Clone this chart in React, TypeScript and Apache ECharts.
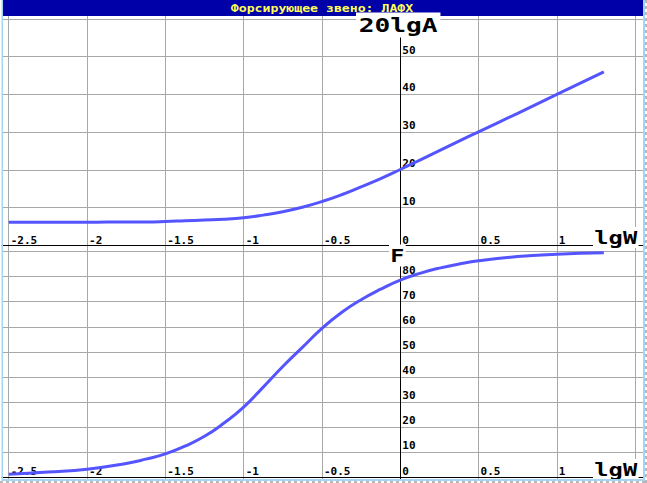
import React, { useEffect, useRef } from "react";
import * as echarts from "echarts";

const titleText = "Форсирующее звено: ЛАФХ";
const ampName = "20lgA";
const phaseName = "F";
const freqName = "lgW";

const xTickValues = [-2.5, -2, -1.5, -1, -0.5, 0, 0.5, 1, 1.5];
const xLabelValues = [-2.5, -2, -1.5, -1, -0.5, 0, 0.5, 1];
const ampTickValues = [10, 20, 30, 40, 50, 60];
const ampLabelValues = [10, 20, 30, 40, 50];
const phaseTickValues = [10, 20, 30, 40, 50, 60, 70, 80, 90];
const phaseLabelValues = [10, 20, 30, 40, 50, 60, 70, 80];

const lgW = [-2.5, -2.25, -2.0, -1.75, -1.625, -1.5, -1.375, -1.25, -1.125, -1.0, -0.875, -0.75, -0.625, -0.5, -0.375, -0.25, -0.125, 0, 0.125, 0.25, 0.375, 0.5, 0.75, 1.0, 1.3];
const ampValues = [6.1, 6.1, 6.1, 6.2, 6.2, 6.3, 6.5, 6.7, 6.9, 7.3, 8.0, 8.9, 10.1, 11.6, 13.4, 15.5, 17.7, 20.1, 22.6, 25.1, 27.6, 30.1, 35.0, 40.0, 46.0];
const phaseValues = [1.3, 2.2, 3.3, 5.6, 7.3, 9.4, 12.5, 16.4, 21.7, 28.0, 36.0, 44.2, 51.8, 59.4, 65.7, 70.8, 75.0, 78.6, 81.3, 83.4, 85.0, 86.3, 88.0, 88.9, 89.5];

const GRID_COLOR = "#a8a8a8";
const LINE_COLOR = "#5555ff";
const FRAME_COLOR = "#a6d4f2";
const MONO = "'DejaVu Sans Mono', monospace";

const GRID_LEFT = 2;
const GRID_WIDTH = 641;
const X_MIN = -2.543;
const X_MAX = 1.55;

export default function App() {
  const ref = useRef<HTMLDivElement>(null);
  useEffect(() => {
    if (!ref.current) return;
    const chart = echarts.init(ref.current, null, { renderer: "svg" });

    const yOffset = -((0 - X_MIN) / (X_MAX - X_MIN)) * GRID_WIDTH;

    const labelStyle = {
      inside: true,
      color: "#000",
      fontFamily: MONO,
      fontWeight: "bold" as const,
      fontSize: 11,
      margin: 2,
    };

    const xAxisBase = (gridIndex: number) => ({
      type: "value" as const,
      gridIndex,
      min: X_MIN,
      max: X_MAX,
      axisLine: { show: true, onZero: true, lineStyle: { color: "#000", width: 1 } },
      axisTick: { show: false, customValues: xTickValues },
      splitLine: { show: true, lineStyle: { color: GRID_COLOR, width: 1 } },
      axisLabel: {
        ...labelStyle,
        customValues: xLabelValues,
        align: "left",
        verticalAlign: "bottom",
        padding: [0, 0, 0, 2],
        formatter: (v: number) => String(v),
      },
    });

    const yAxisBase = (gridIndex: number, min: number, max: number, ticks: number[], labels: number[]) => ({
      type: "value" as const,
      gridIndex,
      min,
      max,
      position: "left" as const,
      offset: yOffset,
      axisLine: { show: true, onZero: false, lineStyle: { color: "#000", width: 1 } },
      axisTick: { show: false, customValues: ticks },
      splitLine: { show: true, lineStyle: { color: GRID_COLOR, width: 1 } },
      axisLabel: {
        ...labelStyle,
        customValues: labels,
        align: "left",
        verticalAlign: "bottom",
        padding: [0, 0, 1, 0],
      },
    });

    chart.setOption({
      animation: false,
      backgroundColor: "#fff",
      grid: [
        { left: GRID_LEFT, top: 16, width: GRID_WIDTH, height: 232, containLabel: false },
        { left: GRID_LEFT, top: 248, width: GRID_WIDTH, height: 231, containLabel: false },
      ],
      xAxis: [xAxisBase(0), xAxisBase(1)],
      yAxis: [
        yAxisBase(0, -0.72, 60.8, ampTickValues, ampLabelValues),
        yAxisBase(1, -0.6, 91.4, phaseTickValues, phaseLabelValues),
      ],
      series: [
        {
          type: "line",
          xAxisIndex: 0,
          yAxisIndex: 0,
          data: lgW.map((x, i) => [x, ampValues[i]]),
          smooth: 0.5,
          showSymbol: false,
          lineStyle: { color: LINE_COLOR, width: 3 },
          z: 3,
        },
        {
          type: "line",
          xAxisIndex: 1,
          yAxisIndex: 1,
          data: lgW.map((x, i) => [x, phaseValues[i]]),
          smooth: 0.5,
          showSymbol: false,
          lineStyle: { color: LINE_COLOR, width: 3 },
          z: 3,
        },
      ],
      graphic: [
        { type: "rect", shape: { x: 2, y: 0, width: 641, height: 16 }, style: { fill: "#0000a8" }, z: 10 },
        {
          type: "text",
          x: 322,
          y: 8,
          scaleX: 1.2,
          style: {
            text: titleText,
            fill: "#ffff55",
            font: `bold 11px ${MONO}`,
            textAlign: "center",
            textVerticalAlign: "middle",
          },
          z: 11,
        },
        {
          type: "text",
          x: 356,
          y: 25,
          scaleX: 1.38,
          style: {
            text: ampName,
            fill: "#000",
            font: `bold 19px ${MONO}`,
            textAlign: "left",
            textVerticalAlign: "middle",
            backgroundColor: "#fff",
            padding: [2, 2, 4, 2],
          },
          z: 12,
        },
        {
          type: "text",
          x: 389,
          y: 255.5,
          scaleX: 1.3,
          style: {
            text: phaseName,
            fill: "#000",
            font: `bold 18px ${MONO}`,
            textAlign: "left",
            textVerticalAlign: "middle",
            backgroundColor: "#fff",
            padding: [1, 1, 3, 1],
          },
          z: 12,
        },
        {
          type: "text",
          x: 593,
          y: 237.5,
          scaleX: 1.32,
          style: {
            text: freqName,
            fill: "#000",
            font: `bold 18px ${MONO}`,
            textAlign: "left",
            textVerticalAlign: "middle",
            backgroundColor: "#fff",
            padding: [2, 1, 1, 1],
          },
          z: 12,
        },
        {
          type: "text",
          x: 593,
          y: 469.5,
          scaleX: 1.32,
          style: {
            text: freqName,
            fill: "#000",
            font: `bold 18px ${MONO}`,
            textAlign: "left",
            textVerticalAlign: "middle",
            backgroundColor: "#fff",
            padding: [2, 1, 1, 1],
          },
          z: 12,
        },
        { type: "rect", shape: { x: 1.5, y: 0, width: 1.5, height: 481 }, style: { fill: FRAME_COLOR }, z: 13 },
        { type: "rect", shape: { x: 643, y: 0, width: 2, height: 481 }, style: { fill: FRAME_COLOR }, z: 13 },
        { type: "rect", shape: { x: 2, y: 479, width: 643, height: 2 }, style: { fill: FRAME_COLOR }, z: 13 },
        {
          type: "line",
          shape: { x1: 646, y1: 0, x2: 646, y2: 483 },
          style: { stroke: "#b8b8b8", lineWidth: 2, lineDash: [3, 3] },
          z: 13,
        },
        {
          type: "line",
          shape: { x1: 0, y1: 482, x2: 647, y2: 482 },
          style: { stroke: "#b8b8b8", lineWidth: 2, lineDash: [3, 3] },
          z: 13,
        },
      ],
    });
    return () => chart.dispose();
  }, []);

  return (
    <div
      ref={ref}
      style={{ position: "fixed", left: 0, top: 0, width: 647, height: 483, background: "#fff" }}
    />
  );
}
